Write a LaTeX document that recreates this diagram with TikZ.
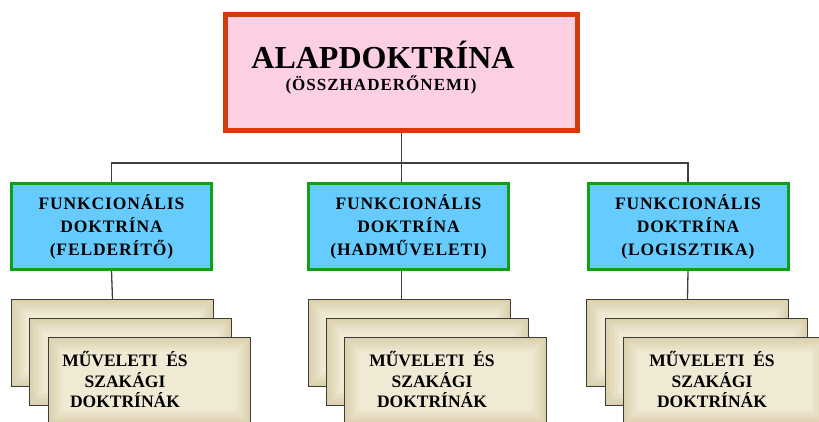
\documentclass[tikz,border=0pt]{standalone}
\usepackage{fontspec}
\setmainfont{Liberation Serif}
\newfontfamily\spfont[LetterSpace=5]{Liberation Serif}
\newfontfamily\spsubfont[LetterSpace=6]{Liberation Serif}
\definecolor{redb}{RGB}{208,60,10}
\definecolor{pinkf}{RGB}{252,208,226}
\definecolor{greenb}{RGB}{16,160,24}
\definecolor{bluef}{RGB}{102,204,255}
\definecolor{grayb}{RGB}{60,60,60}
\definecolor{linec}{RGB}{64,64,64}
\definecolor{beigeout}{RGB}{218,208,172}
\definecolor{beigein}{RGB}{243,236,217}
\begin{document}
\begin{tikzpicture}[x=1pt,y=-1pt,
  topbox/.style={draw=redb, line width=5pt, fill=pinkf, minimum width=352pt, minimum height=116pt, inner sep=0pt},
  funcbox/.style={draw=greenb, line width=3pt, fill=bluef, minimum width=200pt, minimum height=86pt,
    inner sep=0pt, align=center, font=\spfont\fontsize{17.5}{23}\selectfont\bfseries},
  stackbox/.style={draw=grayb, line width=1.2pt, minimum width=202pt, minimum height=87pt, inner sep=0pt,
    path picture={
      \foreach \i in {0,...,9}{
        \pgfmathsetmacro\pc{\i*10}
        \fill[beigein!\pc!beigeout]
          ([shift={(\i*1.6pt,-\i*1.6pt)}]path picture bounding box.north west) rectangle
          ([shift={(-\i*1.6pt,\i*1.6pt)}]path picture bounding box.south east);
      }
    }},
  stxt/.style={align=center, inner sep=0pt, font=\fontsize{17.5}{20.5}\selectfont\bfseries},
  conn/.style={draw=linec, line width=1.3pt}
]
\useasboundingbox (0,0) rectangle (819,421);

% top box
\node[topbox] (top) at (401.5,72.5) {};
\node[inner sep=0pt, font=\fontsize{32}{36}\selectfont\bfseries] (title) at (383,55) {ALAPDOKTRÍNA};
\node[inner sep=0pt, font=\spsubfont\fontsize{17}{20}\selectfont\bfseries] (subtitle) at (381,85) {(ÖSSZHADERŐNEMI)};

% functional boxes
\node[funcbox] (f1) at (111.5,226.5) {FUNKCIONÁLIS\\DOKTRÍNA\\(FELDERÍTŐ)};
\node[funcbox] (f2) at (408.5,226.5) {FUNKCIONÁLIS\\DOKTRÍNA\\(HADMŰVELETI)};
\node[funcbox] (f3) at (688,226.5) {FUNKCIONÁLIS\\DOKTRÍNA\\(LOGISZTIKA)};

% stacks
\node[stackbox] (s11) at (112.5,343) {};
\node[stackbox] (s12) at (130.5,362) {};
\node[stackbox] (s13) at (149.5,381) {};
\node[stxt] (t1) at (125,379.5) {MŰVELETI\ \ ÉS\\SZAKÁGI\\DOKTRÍNÁK};

\node[stackbox] (s21) at (409.5,343) {};
\node[stackbox] (s22) at (427.5,362) {};
\node[stackbox] (s23) at (445.5,381) {};
\node[stxt] (t2) at (432,379.5) {MŰVELETI\ \ ÉS\\SZAKÁGI\\DOKTRÍNÁK};

\node[stackbox] (s31) at (687.5,343) {};
\node[stackbox] (s32) at (706.5,362) {};
\node[stackbox] (s33) at (724.5,381) {};
\node[stxt] (t3) at (712,379.5) {MŰVELETI\ \ ÉS\\SZAKÁGI\\DOKTRÍNÁK};

% connectors
\path (top.south) ++(0,30) coordinate (bus);
\draw[conn] (top.south) -- (top.south |- f2.north);
\draw[conn] (f1.north) |- (bus) -| (f3.north);
\draw[conn] (f1.south) -- (s11.north);
\draw[conn] (top.south |- f2.south) -- (top.south |- s21.north);
\draw[conn] (f3.south) -- (s31.north);
\end{tikzpicture}
\end{document}
